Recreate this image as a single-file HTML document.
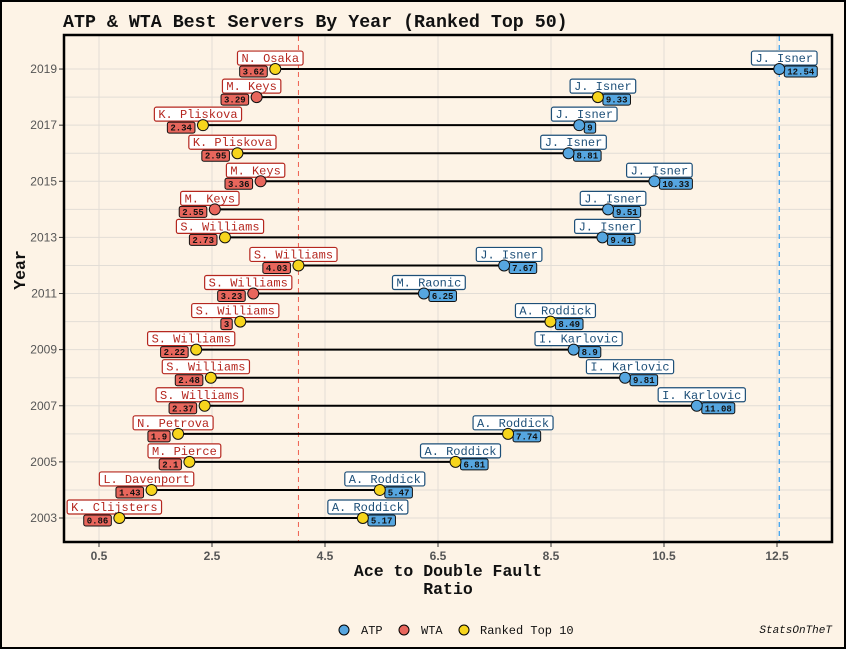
<!DOCTYPE html>
<html><head><meta charset="utf-8"><style>
body{margin:0;background:#fdf3e6;}
svg{display:block;font-family:"Liberation Mono",monospace;}
</style></head><body>
<svg id="chart" width="846" height="649" viewBox="0 0 846 649">
<rect x="1" y="1" width="844" height="647" fill="#fdf3e6" stroke="#000" stroke-width="2"/>
<text x="63" y="27" font-size="18.3" font-weight="bold" fill="#111">ATP &amp; WTA Best Servers By Year (Ranked Top 50)</text>
<g id="grid"></g><g id="marks"></g>
<rect x="64" y="35" width="768" height="507" fill="none" stroke="#000" stroke-width="2.5"/>
<text x="448" y="576" text-anchor="middle" font-size="16.5" font-weight="bold" fill="#111">Ace to Double Fault</text>
<text x="448" y="594" text-anchor="middle" font-size="16.5" font-weight="bold" fill="#111">Ratio</text>
<text x="0" y="0" transform="translate(25,270) rotate(-90)" text-anchor="middle" font-size="16.5" font-weight="bold" fill="#111">Year</text>
<g font-size="12" fill="#111">
<circle cx="344" cy="630" r="5" fill="#56a6e0" stroke="#000"/>
<text x="361" y="634">ATP</text>
<circle cx="404" cy="630" r="5" fill="#e8665c" stroke="#000"/>
<text x="421" y="634">WTA</text>
<circle cx="464" cy="630" r="5" fill="#f7d51c" stroke="#000"/>
<text x="480" y="634">Ranked Top 10</text>
</g>
<text x="832" y="633" text-anchor="end" font-size="11" font-style="italic" fill="#111">StatsOnTheT</text>
</svg>
<script>
const years=[2019,2018,2017,2016,2015,2014,2013,2012,2011,2010,2009,2008,2007,2006,2005,2004,2003];
const wtaNames=["N. Osaka","M. Keys","K. Pliskova","K. Pliskova","M. Keys","M. Keys","S. Williams","S. Williams","S. Williams","S. Williams","S. Williams","S. Williams","S. Williams","N. Petrova","M. Pierce","L. Davenport","K. Clijsters"];
const wtaValues=[3.62,3.29,2.34,2.95,3.36,2.55,2.73,4.03,3.23,3,2.22,2.48,2.37,1.9,2.1,1.43,0.86];
const wtaTop10=[1,0,1,1,0,0,1,1,0,1,1,1,1,1,1,1,1];
const atpNames=["J. Isner","J. Isner","J. Isner","J. Isner","J. Isner","J. Isner","J. Isner","J. Isner","M. Raonic","A. Roddick","I. Karlovic","I. Karlovic","I. Karlovic","A. Roddick","A. Roddick","A. Roddick","A. Roddick"];
const atpValues=[12.54,9.33,9,8.81,10.33,9.51,9.41,7.67,6.25,8.49,8.9,9.81,11.08,7.74,6.81,5.47,5.17];
const atpTop10=[0,1,0,0,0,0,0,0,0,1,0,0,0,1,1,1,1];
const xTicks=[0.5,2.5,4.5,6.5,8.5,10.5,12.5];
const yTicks=[2003,2005,2007,2009,2011,2013,2015,2017,2019];

const NS="http://www.w3.org/2000/svg";
const xs=v=>99+(v-0.5)*56.5;
const ys=y=>518-(y-2003)*28.06;
function mk(tag,attrs,parent){const e=document.createElementNS(NS,tag);for(const k in attrs)e.setAttribute(k,attrs[k]);parent.appendChild(e);return e;}
const grid=document.getElementById('grid'), marks=document.getElementById('marks'), svg=document.getElementById('chart');
xTicks.forEach(t=>{
  const l=mk('line',{x1:xs(t),x2:xs(t),y1:35,y2:546,stroke:'#e2ddd6','stroke-width':1},grid);
  
  
  const tk=mk('line',{x1:xs(t),x2:xs(t),y1:542,y2:547,stroke:'#333'},grid);
  
  
  const tx=mk('text',{x:xs(t),y:560,'text-anchor':'middle','font-size':12,'font-weight':'bold',fill:'#555','font-family':'Liberation Sans, sans-serif'},svg);
  tx.textContent=t;
  
  
});
years.forEach(y=>{
  const l=mk('line',{x1:64,x2:832,y1:ys(y),y2:ys(y),stroke:'#e2ddd6','stroke-width':1},grid);
  
  
});
yTicks.forEach(y=>{
  const tk=mk('line',{x1:59,x2:64,y1:ys(y),y2:ys(y),stroke:'#333'},grid);
  
  
  const tx=mk('text',{x:57,y:ys(y)+4,'text-anchor':'end','font-size':12,fill:'#555','font-family':'Liberation Sans, sans-serif'},svg);
  tx.textContent=y;
  
  
});
const wMax=Math.max(...wtaValues), aMax=Math.max(...atpValues);
const r1=mk('line',{x1:xs(wMax),x2:xs(wMax),y1:36,y2:541,stroke:'#f06050','stroke-dasharray':'5,4','stroke-width':1},grid);


const r2=mk('line',{x1:xs(aMax),x2:xs(aMax),y1:36,y2:541,stroke:'#2f9cf0','stroke-dasharray':'5,4','stroke-width':1.2},grid);



function nameLabel(cx,cy,txt,col){
  const w=txt.length*7.2+8;
  const g=mk('g',{},marks);
  
  
  mk('rect',{x:cx-w/2,y:cy-18,width:w,height:14,rx:2,fill:'#fff',stroke:col,'stroke-width':1.2},g);
  const t=mk('text',{x:cx,y:cy-7,'text-anchor':'middle','font-size':12,fill:col},g);t.textContent=txt;
}
function valLabel(x,cy,txt,fill,alignRight){
  const w=txt.length*5.4+6;
  const x0=alignRight?x-w:x;
  const g=mk('g',{},marks);
  
  
  mk('rect',{x:x0,y:cy-3,width:w,height:11,rx:2,fill:fill,stroke:'#111','stroke-width':1},g);
  const t=mk('text',{x:x0+w/2,y:cy+5.5,'text-anchor':'middle','font-size':9,'font-weight':'bold',fill:'#111'},g);t.textContent=txt;
}
years.forEach((y,i)=>{
  const cy=ys(y), xw=xs(wtaValues[i]), xa=xs(atpValues[i]);
  const seg=mk('line',{x1:xw,x2:xa,y1:cy,y2:cy,stroke:'#000','stroke-width':2},marks);
  
  
  nameLabel(xw-5,cy,wtaNames[i],'#b5271f');
  nameLabel(xa+5,cy,atpNames[i],'#1d4f78');
  valLabel(xw-8,cy,String(wtaValues[i]),'#e8665c',true);
  valLabel(xa+5,cy,String(atpValues[i]),'#56a6e0',false);
  const c1=mk('circle',{cx:xw,cy:cy,r:5.5,fill:wtaTop10[i]?'#f7d51c':'#e8665c',stroke:'#111','stroke-width':1},marks);
  
  
  const c2=mk('circle',{cx:xa,cy:cy,r:5.5,fill:atpTop10[i]?'#f7d51c':'#56a6e0',stroke:'#111','stroke-width':1},marks);
  
  
});
</script>
</body></html>
